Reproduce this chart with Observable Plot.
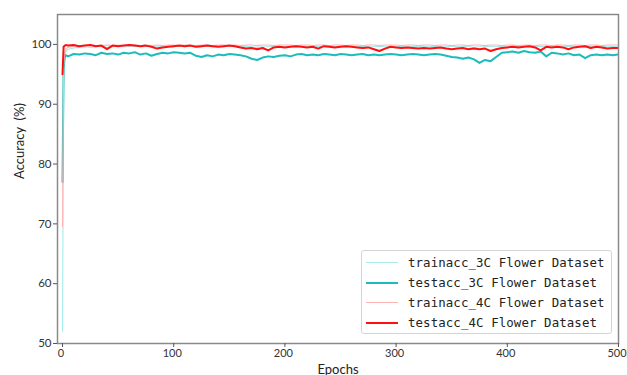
<!DOCTYPE html>
<html>
<head>
<meta charset="utf-8">
<script src="https://cdn.jsdelivr.net/npm/d3@7"></script>
<script src="https://cdn.jsdelivr.net/npm/@observablehq/plot@0.6"></script>
<style>
  html, body { margin: 0; padding: 0; background: white; overflow: hidden; }
  #wrap { position: relative; width: 627px; height: 375px; }
  #legend { position: absolute; left: 361px; top: 250px; width: 251px; height: 84px;
    border: 1px solid #d4d4d4; border-radius: 3px; background: rgba(255,255,255,0.85);
    font-family: "DejaVu Sans Mono", monospace; font-size: 12.4px; color: #222; box-sizing: border-box; }
  .row { position: absolute; left: 0; height: 20px; width: 100%; }
  .sw { position: absolute; left: 4px; width: 32px; top: 10px; }
  .lb { position: absolute; left: 46px; top: 2px; white-space: nowrap; letter-spacing: 0.1px; }
  svg text { white-space: pre; }
</style>
</head>
<body>
<div id="wrap"><div id="chart"></div><div id="legend"></div></div>
<script>
const epochs = [0,1,2,3,5,10,15,20,25,30,35,40,45,50,55,60,65,70,75,80,85,90,95,100,
  105,110,115,120,125,130,135,140,145,150,155,160,165,170,175,180,185,190,195,200,
  205,210,215,220,225,230,235,240,245,250,255,260,265,270,275,280,285,290,295,300,
  305,310,315,320,325,330,335,340,345,350,355,360,365,370,375,380,385,390,395,400,
  405,410,415,420,425,430,435,440,445,450,455,460,465,470,475,480,485,490,495,499];

const trainacc3C = [52.0,94.5,97.8,98.8,99.2,99.4,99.5,99.6,99.5,99.6,99.6,99.5,99.6,99.7,99.6,99.6,99.7,99.6,99.6,99.7,99.6,99.6,99.7,99.6,
  99.7,99.6,99.7,99.6,99.6,99.7,99.6,99.7,99.6,99.7,99.6,99.6,99.7,99.6,99.5,99.6,99.6,99.7,99.6,99.6,
  99.7,99.6,99.7,99.6,99.6,99.7,99.6,99.7,99.6,99.7,99.6,99.7,99.6,99.7,99.6,99.6,99.7,99.6,99.7,99.6,
  99.7,99.6,99.7,99.6,99.7,99.6,99.7,99.6,99.6,99.7,99.6,99.7,99.6,99.5,99.6,99.6,99.7,99.6,99.7,99.7,
  99.7,99.6,99.7,99.7,99.6,99.7,99.6,99.7,99.7,99.6,99.7,99.6,99.7,99.6,99.7,99.6,99.7,99.6,99.7,99.6];

const testacc3C = [77.0,96.0,97.8,98.2,98.0,98.4,98.3,98.5,98.4,98.2,98.6,98.4,98.5,98.3,98.6,98.5,98.7,98.3,98.5,98.1,98.4,98.6,98.5,98.7,
  98.6,98.5,98.6,98.1,97.9,98.2,98.0,98.3,98.2,98.4,98.3,98.2,98.0,97.6,97.4,97.8,98.0,97.9,98.1,98.2,
  98.0,98.3,98.4,98.2,98.3,98.2,98.4,98.3,98.2,98.4,98.3,98.2,98.3,98.4,98.2,98.3,98.2,98.3,98.4,98.3,
  98.2,98.3,98.4,98.3,98.2,98.3,98.4,98.3,98.1,97.9,97.8,97.6,97.8,97.5,96.9,97.4,97.2,97.9,98.6,98.7,
  98.8,98.6,98.9,98.7,98.6,98.8,98.0,98.6,98.5,98.3,98.5,98.2,98.3,97.7,98.2,98.3,98.2,98.3,98.2,98.3];

const trainacc4C = [69.5,96.5,98.6,99.2,99.5,99.7,99.8,99.8,99.9,99.8,99.8,99.9,99.8,99.9,99.8,99.9,99.9,99.8,99.9,99.8,99.9,99.8,99.9,99.9,
  99.8,99.9,99.9,99.8,99.9,99.9,99.8,99.9,99.9,99.8,99.9,99.8,99.9,99.9,99.8,99.9,99.9,99.8,99.9,99.9,
  99.9,99.8,99.9,99.9,99.8,99.9,99.9,99.8,99.9,99.9,99.8,99.9,99.9,99.8,99.9,99.9,99.8,99.9,99.9,99.9,
  99.8,99.9,99.9,99.8,99.9,99.9,99.8,99.9,99.9,99.8,99.9,99.9,99.8,99.9,99.9,99.8,99.9,99.9,99.8,99.9,
  99.9,99.8,99.9,99.9,99.8,99.9,99.9,99.8,99.9,99.9,99.8,99.9,99.9,99.8,99.9,99.9,99.8,99.9,99.9,99.9];

const testacc4C = [95.0,99.6,99.8,99.9,99.8,99.9,99.7,99.8,99.9,99.7,99.8,99.2,99.8,99.7,99.8,99.9,99.8,99.7,99.8,99.6,99.3,99.5,99.6,99.7,
  99.8,99.7,99.8,99.6,99.7,99.8,99.7,99.6,99.7,99.8,99.7,99.5,99.3,99.4,99.2,99.4,99.0,99.5,99.6,99.5,
  99.6,99.7,99.6,99.5,99.6,99.3,99.7,99.6,99.5,99.6,99.7,99.6,99.5,99.4,99.5,99.2,98.9,99.3,99.6,99.5,
  99.4,99.5,99.4,99.3,99.4,99.3,99.4,99.5,99.3,99.2,99.3,99.4,99.2,99.3,99.2,99.3,98.9,99.2,99.4,99.5,
  99.6,99.5,99.6,99.7,99.5,99.0,99.6,99.5,99.6,99.5,99.2,99.5,99.6,99.7,99.4,99.6,99.5,99.3,99.4,99.4];

const xTicks = [0,100,200,300,400,500];
const yTicks = [50,60,70,80,90,100];
const xLabel = ["Epochs"];
const yLabel = ["Accuracy  (%)"];

const seriesNames = ["trainacc_3C Flower Dataset","testacc_3C Flower Dataset","trainacc_4C Flower Dataset","testacc_4C Flower Dataset"];
const seriesData = [trainacc3C, testacc3C, trainacc4C, testacc4C];
const seriesColors = ["#a6eaea","#1cbcbc","#ffb4b4","#ff0f0f"];
const seriesWidths = [1.1, 2, 1.1, 2];

const lineMarks = seriesData.map((vals, k) =>
  Plot.line(vals, {x: (d, i) => epochs[i], y: d => d, stroke: seriesColors[k], strokeWidth: seriesWidths[k], curve: "linear"})
);

const chart = Plot.plot({
  width: 627,
  height: 380,
  marginLeft: 57,
  marginRight: 9,
  marginTop: 14,
  marginBottom: 37,
  style: {fontFamily: "Lato, 'DejaVu Sans', sans-serif", fontSize: "11px", color: "#333", background: "white"},
  x: {domain: [-4.5, 500]},
  y: {domain: [50, 105]},
  marks: [
    ...lineMarks,
    Plot.frame({stroke: "#8a8a8a", strokeWidth: 1.5}),
    Plot.axisX(xTicks, {tickSize: 4, stroke: "#555", text: null, label: null}),
    Plot.axisX(xTicks, {tickSize: 0, tickPadding: 6, dx: -1.5, label: null, fontSize: 11}),
    Plot.axisY(yTicks, {tickSize: 4, tickPadding: 2, stroke: "#555", label: null, fontSize: 11.5}),
    Plot.text(yLabel, {frameAnchor: "left", dx: -38, rotate: -90, text: d => d, fontSize: 13, fill: "#222"}),
    Plot.text(xLabel, {frameAnchor: "bottom", dy: 30, text: d => d, fontSize: 13, fill: "#222"})
  ]
});
document.getElementById("chart").appendChild(chart);

const legend = document.getElementById("legend");
seriesNames.forEach((name, k) => {
  const row = document.createElement("div");
  row.className = "row";
  row.style.top = (2 + 20 * k) + "px";
  const sw = document.createElement("div");
  sw.className = "sw";
  sw.style.borderTop = seriesWidths[k] + "px solid " + seriesColors[k];
  sw.style.top = (10 - seriesWidths[k] / 2) + "px";
  const lb = document.createElement("div");
  lb.className = "lb";
  lb.textContent = name;
  row.appendChild(sw); row.appendChild(lb);
  legend.appendChild(row);
});
</script>
</body>
</html>
